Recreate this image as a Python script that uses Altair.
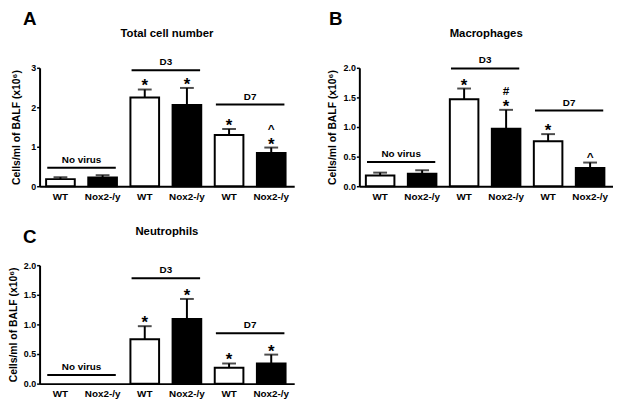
import altair as alt
import pandas as pd

FONT = "Liberation Sans"

# categories (group|genotype) and tick labels
keys = ["No virus|WT", "No virus|Nox2-/y", "D3|WT", "D3|Nox2-/y", "D7|WT", "D7|Nox2-/y"]
genotype = ["WT", "Nox2-/y", "WT", "Nox2-/y", "WT", "Nox2-/y"]

# Panel A: total cell number
total_mean = [0.18, 0.22, 2.25, 2.06, 1.30, 0.84]
total_sem = [0.05, 0.06, 0.20, 0.43, 0.15, 0.14]
total_star = ["", "", "*", "*", "*", "*"]
total_mark = ["", "", "", "", "", "^"]
total_line = [0.47, 2.94, 2.07]

# Panel B: macrophages
macro_mean = [0.18, 0.21, 1.47, 0.97, 0.76, 0.31]
macro_sem = [0.05, 0.06, 0.18, 0.32, 0.12, 0.09]
macro_star = ["", "", "*", "*", "*", ""]
macro_mark = ["", "", "", "#", "", "^"]
macro_line = [0.41, 1.99, 1.28]

# Panel C: neutrophils
neut_mean = [0.0, 0.0, 0.75, 1.09, 0.27, 0.34]
neut_sem = [0.0, 0.0, 0.22, 0.34, 0.07, 0.15]
neut_star = ["", "", "*", "*", "*", "*"]
neut_mark = ["", "", "", "", "", ""]
neut_line = [0.145, 1.78, 0.85]

group_names = ["No virus", "D3", "D7"]
group_start = ["No virus|WT", "D3|WT", "D7|WT"]
group_end = ["No virus|Nox2-/y", "D3|Nox2-/y", "D7|Nox2-/y"]

y_title = "Cells/ml of BALF (x10\u2076)"


def panel(letter, title, mean, sem, star, mark, line_y, ymax, ticks, fmt,
          title_x, letter_x, letter_y, width=258, height=120):
    df = pd.DataFrame({
        "key": keys, "geno": genotype, "mean": mean,
        "top": [m + s for m, s in zip(mean, sem)],
        "sem": sem, "star": star, "mark": mark,
    })
    groups = pd.DataFrame({"name": group_names, "start": group_start,
                           "end": group_end, "y": line_y})
    xs = alt.Scale(domain=keys, paddingInner=0.32, paddingOuter=0.18, align=0.43)
    ys = alt.Scale(domain=[0, ymax], nice=False, zero=True)
    xaxis = alt.Axis(title=None, labelExpr="split(datum.label, '|')[1]",
                     ticks=False, labelPadding=5, labelFontSize=10,
                     labelAngle=0, domainWidth=2)
    yaxis = alt.Axis(title=y_title, values=ticks, format=fmt, tickSize=3,
                     tickWidth=1.5, labelPadding=1, labelFontSize=9,
                     domainWidth=2, titleFontSize=10.5, titleX=title_x,
                     titleBaseline="middle", titlePadding=0)
    step = width / (6 - 0.32 + 2 * 0.18)
    gap = step * 0.32

    def X(f, **kw):
        return alt.X(f, scale=xs, axis=xaxis, **kw)

    def Y(f):
        return alt.Y(f, scale=ys, axis=yaxis)

    base = alt.Chart(df)
    bars = base.transform_filter("datum.mean > 0").mark_bar(
        stroke="black", strokeWidth=2).encode(
        x=X("key:N"),
        y=Y("mean:Q"),
        fill=alt.Fill("geno:N", scale=alt.Scale(domain=["WT", "Nox2-/y"],
                                                range=["white", "black"]),
                      legend=None),
    )
    err = base.transform_filter("datum.sem > 0").mark_rule(
        color="black", strokeWidth=2).encode(
        x=X("key:N"), y=Y("mean:Q"), y2="top:Q",
    )
    cap = base.transform_filter("datum.sem > 0").mark_tick(
        color="black", size=14, thickness=2, orient="horizontal").encode(
        x=X("key:N"), y=Y("top:Q"),
    )
    stars = base.transform_filter("datum.star != ''").mark_text(
        font=FONT, fontSize=17, fontWeight="bold", baseline="alphabetic",
        dy=2, color="black").encode(
        x=X("key:N"), y=Y("top:Q"), text="star:N",
    )
    marks_hi = base.transform_filter("datum.star != '' && datum.mark != ''").mark_text(
        font=FONT, fontSize=12, fontWeight="bold", baseline="alphabetic",
        dy=-15, color="black").encode(
        x=X("key:N"), y=Y("top:Q"), text="mark:N",
    )
    marks_lo = base.transform_filter("datum.star == '' && datum.mark != ''").mark_text(
        font=FONT, fontSize=12, fontWeight="bold", baseline="alphabetic",
        dy=-2, color="black").encode(
        x=X("key:N"), y=Y("top:Q"), text="mark:N",
    )
    gbase = alt.Chart(groups)
    glines = gbase.mark_rule(color="black", strokeWidth=2).encode(
        x=X("start:N", bandPosition=0.04),
        x2=alt.X2("end:N", bandPosition=0.96),
        y=Y("y:Q"),
    )
    glabels = gbase.mark_text(font=FONT, fontSize=10, fontWeight="bold",
                              baseline="alphabetic", dy=-5, dx=gap / 2,
                              color="black").encode(
        x=X("start:N", bandPosition=1),
        y=Y("y:Q"),
        text="name:N",
    )
    tdf = alt.Chart(pd.DataFrame({"t": [title], "l": [letter]}))
    ttl = tdf.mark_text(font=FONT, fontSize=11.5, fontWeight="bold",
                        baseline="middle", color="black").encode(
        x=alt.value(width / 2), y=alt.value(-34), text="t:N")
    let = tdf.mark_text(font=FONT, fontSize=19, fontWeight="bold",
                        baseline="top", align="center", color="black").encode(
        x=alt.value(letter_x), y=alt.value(letter_y), text="l:N")
    return alt.layer(bars, err, cap, stars, marks_hi, marks_lo, glines,
                     glabels, ttl, let).properties(width=width, height=height)


A = panel("A", "Total cell number", total_mean, total_sem, total_star, total_mark,
          total_line, 3, [0, 1, 2, 3], "d", -23, -10, -58)
B = panel("B", "Macrophages", macro_mean, macro_sem, macro_star, macro_mark,
          macro_line, 2, [0, 0.5, 1, 1.5, 2], ".1f", -27, -24, -58, width=257)
C = panel("C", "Neutrophils", neut_mean, neut_sem, neut_star, neut_mark,
          neut_line, 2, [0, 0.5, 1, 1.5, 2], ".1f", -26, -10, -37)

chart = alt.concat(A, B, C, columns=2,
                   spacing=alt.RowColnumber(row=25, column=33)).properties(
    padding=0
).configure_view(stroke=None).configure_axis(
    domainColor="black", tickColor="black", labelColor="black",
    titleColor="black", labelFont=FONT, titleFont=FONT,
    labelFontWeight="bold", titleFontWeight="bold", grid=False,
)

chart.save("out.html", embed_options={"renderer": "svg", "actions": False})
